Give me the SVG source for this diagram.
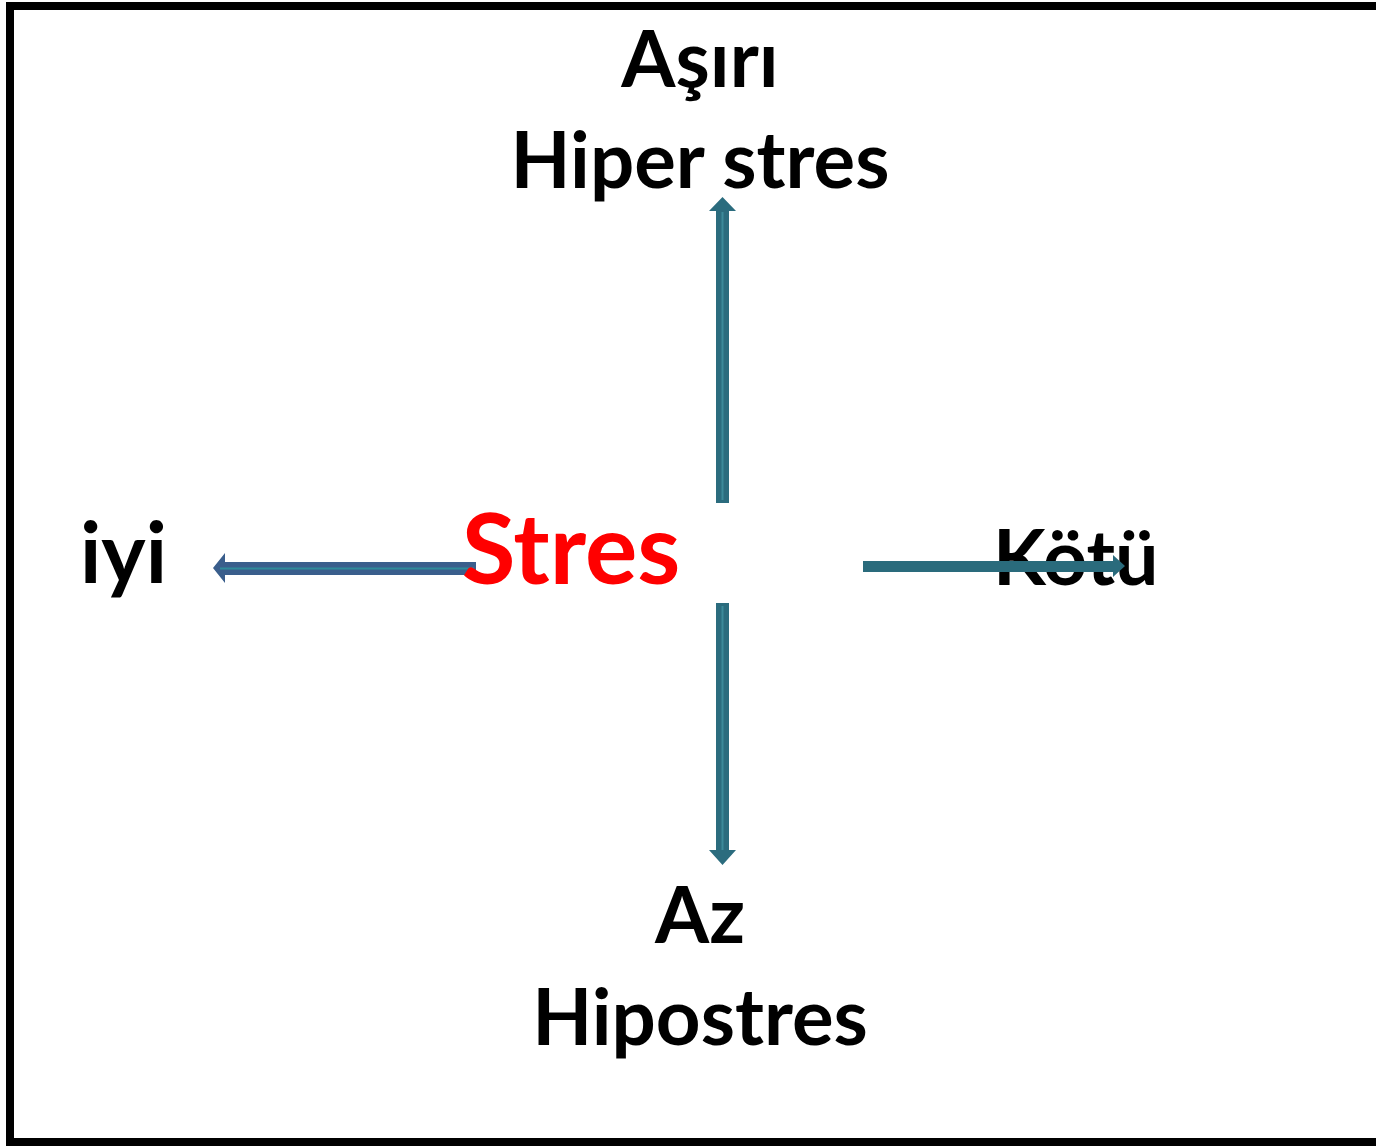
<svg xmlns="http://www.w3.org/2000/svg" width="1376" height="1146" viewBox="0 0 1376 1146">
<style>
.t{font-family:Lato,"Liberation Sans",sans-serif;font-weight:bold;font-size:78px;fill:#000}
.c{text-anchor:middle}
</style>
<rect x="0" y="0" width="1376" height="1146" fill="#fff"/>
<rect x="10" y="6" width="1380" height="1136" fill="none" stroke="#000" stroke-width="8"/>
<g id="connectors">
<g id="arrow-up"><path d="M716,503 V211 H709 L722.5,197 L736,211 H729 V503 Z" fill="#2b6c7e"/><line x1="722.5" y1="500" x2="722.5" y2="212" stroke="#3c8a9a" stroke-width="2"/></g>
<g id="arrow-down"><path d="M716,603 V850 H709 L722.5,865 L736,850 H729 V603 Z" fill="#2b6c7e"/><line x1="722.5" y1="606" x2="722.5" y2="850" stroke="#3c8a9a" stroke-width="2"/></g>
<g id="arrow-left"><path d="M476,562 H225 V553 L213,568 L225,583 V575 H476 Z" fill="#3a5e8c"/><line x1="474" y1="568.5" x2="220" y2="568.5" stroke="#2e8a9a" stroke-width="2"/></g>
</g>
<g id="node-stres"><text class="t" x="571" y="584" text-anchor="middle" style="font-size:98px;fill:#ff0000">Stres</text></g>
<g id="node-asiri"><text class="t c" x="700" y="87">Aşırı</text><text class="t c" x="700" y="188">Hiper stres</text></g>
<g id="node-iyi"><text class="t" x="80" y="583" style="font-size:84px">iyi</text></g>
<g id="node-kotu"><text class="t" x="993" y="585" style="font-size:77px">Kötü</text></g>
<g id="node-az"><text class="t c" x="700" y="943">Az</text><text class="t c" x="700" y="1045">Hipostres</text></g>
<g id="arrow-right-over"><path d="M863,561 H1113 V555 L1125,566 L1113,577 V572 H863 Z" fill="#2a6b7c"/></g>
</svg>
